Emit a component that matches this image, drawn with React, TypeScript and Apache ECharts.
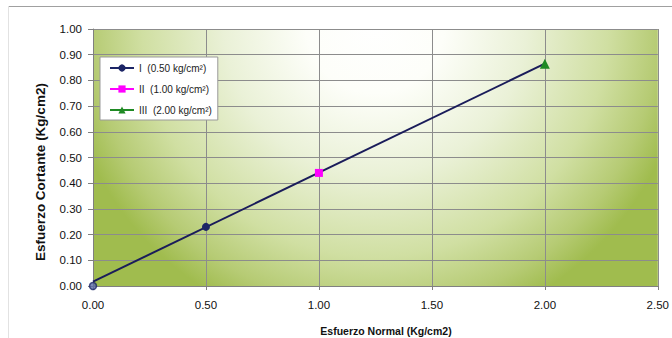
import React, { useEffect, useRef } from "react";
import * as echarts from "echarts";

// Ensayo de corte directo: puntos por esfuerzo normal y envolvente lineal
const normalStress = [0.5, 1.0, 2.0];
const shearStress = [0.23, 0.44, 0.865];
const seriesNames = [
  "I\u00a0\u00a0(0.50 kg/cm²)",
  "II\u00a0\u00a0(1.00 kg/cm²)",
  "III\u00a0\u00a0(2.00 kg/cm²)",
];
const seriesColors = ["#1c2566", "#ff00ff", "#1f8a24"];
const seriesSymbols = ["circle", "rect", "triangle"];
const seriesSymbolSizes = [8, 8, 10];

// Envolvente de falla (extremos de la recta ajustada)
const envelopeX = [0, 2.0];
const envelopeY = [0.017, 0.865];

const origin = [0, 0];

const xTicks = { min: 0, max: 2.5, interval: 0.5 };
const yTicks = { min: 0, max: 1.0, interval: 0.1 };

const font = "'Liberation Sans', Arial, sans-serif";

export default function App() {
  const ref = useRef<HTMLDivElement>(null);

  useEffect(() => {
    if (!ref.current) return;
    const chart = echarts.init(ref.current, undefined, { renderer: "svg" });

    const pointSeries = normalStress.map((x, i) => ({
      name: seriesNames[i],
      type: "line",
      data: [[x, shearStress[i]]],
      symbol: seriesSymbols[i],
      symbolSize: seriesSymbolSizes[i],
      itemStyle: { color: seriesColors[i] },
      lineStyle: { color: seriesColors[i], width: 2 },
      z: 5,
    }));

    chart.setOption({
      animation: false,
      backgroundColor: "#ffffff",
      textStyle: { fontFamily: font },
      grid: {
        left: 93,
        top: 29,
        width: 568,
        height: 257,
        show: true,
        borderWidth: 0,
        // fondo con degradado radial (coordenadas globales, en px)
        backgroundColor: new echarts.graphic.RadialGradient(
          375,
          24,
          315,
          [
            { offset: 0, color: "#ffffff" },
            { offset: 0.22, color: "#fdfef9" },
            { offset: 0.48, color: "#eaf1d7" },
            { offset: 0.74, color: "#d0dfa2" },
            { offset: 0.9, color: "#b6cb74" },
            { offset: 1, color: "#a0bc4e" },
          ],
          true
        ),
      },
      legend: {
        orient: "vertical",
        left: 100,
        top: 57,
        padding: [6, 6, 5, 9],
        itemWidth: 24,
        itemHeight: 9,
        itemGap: 11,
        backgroundColor: "#ffffff",
        borderColor: "#9a9a9a",
        borderWidth: 1,
        data: seriesNames,
        textStyle: { fontFamily: font, fontSize: 10, color: "#222" },
      },
      xAxis: {
        type: "value",
        min: xTicks.min,
        max: xTicks.max,
        interval: xTicks.interval,
        axisLine: { lineStyle: { color: "#808080", width: 1 } },
        axisTick: { show: true, length: 4, lineStyle: { color: "#808080" } },
        axisLabel: {
          margin: 13,
          fontSize: 11.5,
          color: "#111",
          formatter: (v: number) => v.toFixed(2),
        },
        splitLine: { show: true, lineStyle: { color: "#8c8c8c", width: 1 } },
      },
      yAxis: {
        type: "value",
        min: yTicks.min,
        max: yTicks.max,
        interval: yTicks.interval,
        axisLine: { show: true, lineStyle: { color: "#808080", width: 1 } },
        axisTick: { show: true, length: 5, lineStyle: { color: "#808080" } },
        axisLabel: {
          margin: 11,
          fontSize: 11.5,
          color: "#111",
          formatter: (v: number) => v.toFixed(2),
        },
        splitLine: { show: true, lineStyle: { color: "#8c8c8c", width: 1 } },
      },
      graphic: [
        {
          type: "line",
          shape: { x1: 8, y1: 6.5, x2: 672, y2: 6.5 },
          style: { stroke: "#a0a0a0", lineWidth: 1 },
        },
        {
          type: "line",
          shape: { x1: 8.5, y1: 6, x2: 8.5, y2: 338 },
          style: { stroke: "#e2e2e2", lineWidth: 1 },
        },
        {
          type: "text",
          x: 40,
          y: 172,
          rotation: Math.PI / 2,
          style: {
            text: "Esfuerzo Cortante (Kg/cm2)",
            fontFamily: font,
            fontSize: 13.5,
            fontWeight: "bold",
            fill: "#111",
            align: "center",
            verticalAlign: "middle",
          },
        },
        {
          type: "text",
          x: 386,
          y: 331,
          style: {
            text: "Esfuerzo Normal (Kg/cm2)",
            fontFamily: font,
            fontSize: 10.5,
            fontWeight: "bold",
            fill: "#111",
            align: "center",
            verticalAlign: "middle",
          },
        },
      ],
      series: [
        {
          name: "Envolvente",
          type: "line",
          data: envelopeX.map((x, i) => [x, envelopeY[i]]),
          showSymbol: false,
          symbol: "none",
          lineStyle: { color: "#1a1c5a", width: 2 },
          z: 3,
        },
        {
          name: "Origen",
          type: "scatter",
          data: [origin],
          symbol: "circle",
          symbolSize: 7,
          itemStyle: { color: "#5d6aa6", borderColor: "#1c2566", borderWidth: 1.5 },
          z: 6,
        },
        ...pointSeries,
      ],
    });

    return () => chart.dispose();
  }, []);

  return (
    <div
      ref={ref}
      style={{ position: "fixed", left: 0, top: 0, width: 672, height: 338 }}
    />
  );
}
